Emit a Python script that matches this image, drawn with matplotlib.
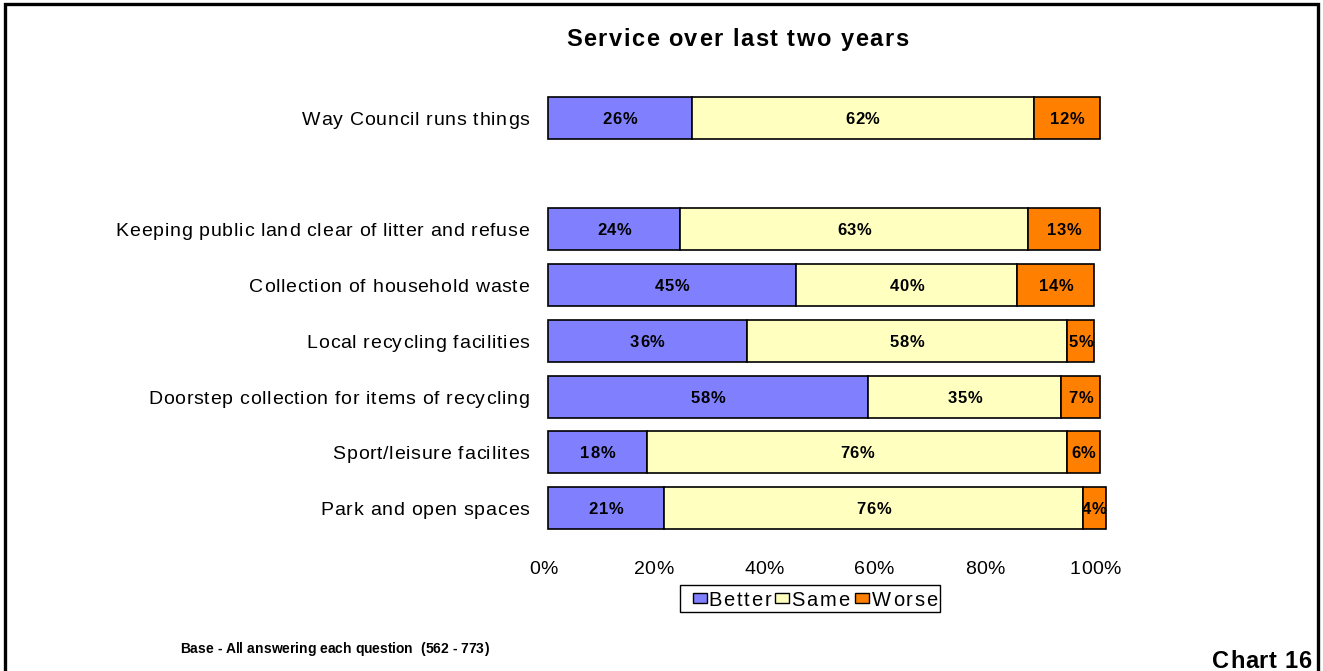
import matplotlib
matplotlib.use("Agg")
import matplotlib.pyplot as plt
from matplotlib.patches import Rectangle
from matplotlib.transforms import IdentityTransform
from matplotlib.font_manager import FontProperties, findfont, get_font
from matplotlib.ft2font import LoadFlags

FONT = "Liberation Sans"
plt.rcParams['font.family'] = [FONT, 'DejaVu Sans']

categories = [
    "Way Council runs things",
    "",
    "Keeping public land clear of litter and refuse",
    "Collection of household waste",
    "Local recycling facilities",
    "Doorstep collection for items of recycling",
    "Sport/leisure facilites",
    "Park and open spaces",
]
better = [26, None, 24, 45, 36, 58, 18, 21]
same = [62, None, 63, 40, 58, 35, 76, 76]
worse = [12, None, 13, 14, 5, 7, 6, 4]
series_names = ["Better", "Same", "Worse"]
colors = ["#8080FF", "#FFFFC0", "#FF8000"]
xticks = [0, 20, 40, 60, 80, 100]

W, H, DPI = 1323, 671, 100
fig = plt.figure(figsize=(W / DPI, H / DPI), dpi=DPI)
ax = fig.add_axes([548 / W, 1 - 536 / H, 552 / W, 446 / H])
IDT = IdentityTransform()


def advances(s, size, weight):
    fp = FontProperties(family=FONT, weight=weight)
    font = get_font(findfont(fp))
    font.set_size(size, DPI)
    out = []
    for c in s:
        g = font.load_char(ord(c), flags=LoadFlags.NO_HINTING)
        out.append(g.linearHoriAdvance / 65536)
    return out


def tracked_text(x, y, s, size, weight="normal", tracking=0.0, ha="left"):
    """Draw text with extra letter spacing; x, y are display pixels, y at the
    vertical centre of the capitals."""
    adv = advances(s, size, weight)
    total = sum(adv) + tracking * (len(s) - 1)
    if ha == "right":
        pen = x - total
    elif ha == "center":
        pen = x - total / 2
    else:
        pen = x
    base = y - 0.716 * size * DPI / 72 / 2
    for c, a in zip(s, adv):
        if c != " ":
            fig.text(pen, base, c, transform=IDT, fontsize=size, fontweight=weight,
                     ha="left", va="baseline", family=FONT)
        pen += a + tracking


def px(x, y_top):
    return x, H - y_top


ax.set_xlim(0, 100)
ax.set_ylim(len(categories) - 0.5, -0.5)
for sp in ax.spines.values():
    sp.set_visible(False)
ax.set_xticks([])
ax.set_yticks([])

stack = [better, same, worse]
for s_idx, (vals, col) in enumerate(zip(stack, colors)):
    for i, v in enumerate(vals):
        if v is None:
            continue
        left = sum(prev[i] for prev in stack[:s_idx])
        ax.barh(i, v, left=left, height=0.75, color=col, edgecolor="black",
                linewidth=1.2, clip_on=False)
        cx, cy = ax.transData.transform((left + v / 2, i))
        tracked_text(cx, cy, f"{v}%", 12, "bold", 0.6, ha="center")

# Category labels
for i, name in enumerate(categories):
    if not name:
        continue
    x0, cy = ax.transData.transform((0, i))
    tracked_text(x0 - 19, cy, name, 14, "normal", 0.75, ha="right")

# Percentage axis labels
for t in xticks:
    tx, _ = ax.transData.transform((t, 0))
    tracked_text(tx - 5, H - 567, f"{t}%", 14, "normal", 0.2, ha="center")

# Legend
fig.patches.append(Rectangle(px(680, 612), 260, 27, transform=IDT, fill=False,
                             edgecolor="black", linewidth=1.0))
swatch_x = [693, 775, 855]
text_x = [708, 791, 872]
for sx, tx, name, col in zip(swatch_x, text_x, series_names, colors):
    fig.patches.append(Rectangle(px(sx, 603), 14, 10, transform=IDT, facecolor=col,
                                 edgecolor="black", linewidth=1.0))
    tracked_text(tx, H - 599, name, 14.5, "normal", 1.9, ha="left")

tracked_text(737, H - 38, "Service over last two years", 17, "bold", 1.5, ha="center")
tracked_text(180, H - 648, "Base - All answering each question  (562 - 773)", 10,
             "bold", 0.0, ha="left")
tracked_text(1311, H - 660, "Chart 16", 17, "bold", 0.6, ha="right")

# Outer frame around the whole figure
fig.patches.append(Rectangle((0.004, -0.01), 0.992, 1.004, transform=fig.transFigure,
                             fill=False, edgecolor="black", linewidth=2.4))

fig.savefig("out.png", dpi=DPI)
